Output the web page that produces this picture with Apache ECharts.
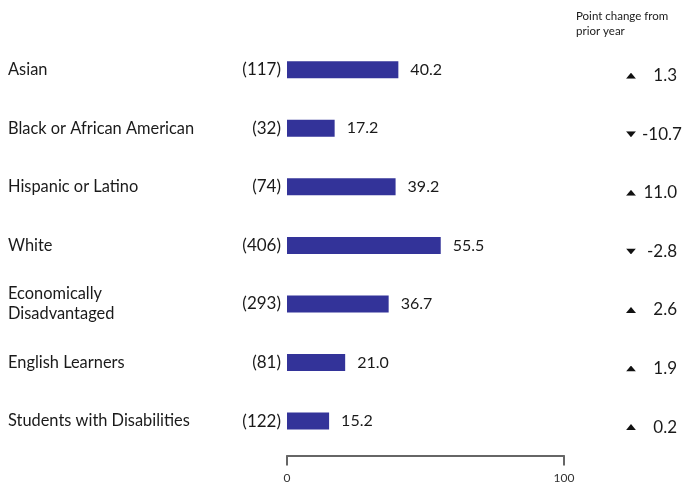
<!DOCTYPE html>
<html><head><meta charset="utf-8">
<script src="https://cdn.jsdelivr.net/npm/echarts@6/dist/echarts.min.js"></script>
<style>html,body{margin:0;padding:0;background:#fff}#c{width:682px;height:485px}</style>
</head><body><div id="c"></div>
<script>
const categories = ['Asian','Black or African American','Hispanic or Latino','White','Economically\nDisadvantaged','English Learners','Students with Disabilities'];
const values = [40.2, 17.2, 39.2, 55.5, 36.7, 21.0, 15.2];
const counts = [117, 32, 74, 406, 293, 81, 122];
const changes = [1.3, -10.7, 11.0, -2.8, 2.6, 1.9, 0.2];
const xTicks = [0, 100];

const FONT = 'Lato';
const TXT = '#1a1a1a';
const triUp = 'data:image/svg+xml;utf8,' + encodeURIComponent('<svg xmlns="http://www.w3.org/2000/svg" width="16" height="10" viewBox="0 0 16 10"><polygon points="8,0 16,10 0,10" fill="#111"/></svg>');
const triDown = 'data:image/svg+xml;utf8,' + encodeURIComponent('<svg xmlns="http://www.w3.org/2000/svg" width="16" height="10" viewBox="0 0 16 10"><polygon points="0,0 16,0 8,10" fill="#111"/></svg>');

const chart = echarts.init(document.getElementById('c'), null, {renderer: 'canvas'});
chart.setOption({
  animation: false,
  textStyle: {fontFamily: FONT},
  title: {
    text: 'Point change from\nprior year',
    left: 571, top: 4,
    textStyle: {fontFamily: FONT, fontSize: 11.5, fontWeight: 'normal', color: TXT, lineHeight: 15}
  },
  grid: {left: 287, right: 118, top: 40.4, height: 410, containLabel: false, outerBoundsMode: 'none'},
  xAxis: {
    type: 'value', min: xTicks[0], max: xTicks[1], interval: xTicks[1] - xTicks[0],
    position: 'bottom', offset: 5,
    splitLine: {show: false},
    axisLine: {show: true, lineStyle: {color: '#666', width: 2}},
    axisTick: {show: true, length: 10, lineStyle: {color: '#666', width: 2}},
    axisLabel: {fontFamily: FONT, fontSize: 12, color: '#333', margin: 17}
  },
  yAxis: [
    {
      type: 'category', data: categories, inverse: true, position: 'left',
      axisLine: {show: false}, axisTick: {show: false},
      axisLabel: {
        align: 'left', margin: 279, fontFamily: FONT, fontSize: 16.4, color: TXT,
        lineHeight: 20, padding: [0, 0, 3, 0]
      }
    },
    {
      type: 'category', data: counts.map(c => '(' + c + ')'), inverse: true, position: 'left',
      axisLine: {show: false}, axisTick: {show: false},
      axisLabel: {margin: 6, fontFamily: FONT, fontSize: 17, color: TXT, padding: [10, 0, 0, 0]}
    },
    {
      type: 'category', data: changes.map(String), inverse: true, position: 'right',
      axisLine: {show: false}, axisTick: {show: false},
      axisLabel: {
        align: 'left', margin: 62, padding: [12, 0, 0, 0],
        formatter: function (v) {
          const n = parseFloat(v);
          const s = n.toFixed(1);
          return '{' + (n >= 0 ? 'up' : 'dn') + '|}{sp|}{' + (s.length > 4 ? 'w' : 'v') + '|' + s + '}';
        },
        rich: {
          up: {width: 10, height: 6, verticalAlign: 'middle', backgroundColor: {image: triUp}},
          dn: {width: 10, height: 6, verticalAlign: 'middle', backgroundColor: {image: triDown}},
          sp: {width: 6, height: 5},
          v: {width: 35, align: 'right', verticalAlign: 'middle', fontSize: 17, color: TXT, fontFamily: FONT},
          w: {width: 42, align: 'left', verticalAlign: 'middle', fontSize: 17, color: TXT, fontFamily: FONT}
        }
      }
    }
  ],
  series: [{
    type: 'bar', data: values, yAxisIndex: 0, barWidth: 17,
    itemStyle: {color: '#333399'},
    label: {
      show: true, position: 'right', distance: 12, fontFamily: FONT, fontSize: 16, color: TXT,
      formatter: p => p.value.toFixed(1)
    }
  }]
});
</script></body></html>
